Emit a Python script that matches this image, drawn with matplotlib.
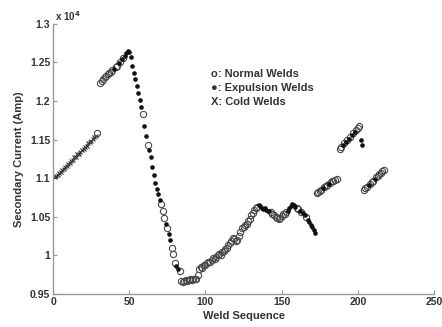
import numpy as np
import matplotlib
matplotlib.use("Agg")
import matplotlib.pyplot as plt
from matplotlib.ticker import FuncFormatter

plt.rcParams['font.family'] = ['Liberation Sans', 'DejaVu Sans']
plt.rcParams['font.weight'] = 'bold'

# valeurs (courant en unites de 10^4 A)
cold_x = list(range(1, 29))
cold_y = [1.101, 1.103, 1.104, 1.107, 1.108, 1.111, 1.112, 1.114, 1.116, 1.119,
          1.120, 1.122, 1.124, 1.127, 1.128, 1.131, 1.132, 1.134, 1.137, 1.138,
          1.141, 1.142, 1.145, 1.147, 1.148, 1.151, 1.153, 1.155]

normal_x = [29,
            31, 32, 33, 34, 35, 36, 37, 38, 39, 41, 42, 44, 46,
            59, 62, 71, 72, 73, 75, 78, 79, 80, 83,
            84, 85, 86, 87, 88, 89, 90, 91, 92, 93, 94, 95,
            96, 97, 98, 99, 100, 101, 102, 103, 104, 105, 106, 107, 108, 109, 110,
            111, 112, 113, 114, 115, 116, 117, 118, 119, 120, 121, 122, 123, 124,
            125, 126, 127, 128, 129, 130, 131, 132, 133, 134,
            143, 144, 145, 146, 147, 148, 149, 150, 151, 152, 153, 160, 161, 163, 166,
            173, 174, 175, 176, 178, 179, 180, 182, 183, 184, 185, 186,
            188, 189, 191, 193, 195, 197, 199, 200, 201,
            204, 205, 206, 208, 209, 210, 212, 213, 214, 215, 216, 217]
normal_y = [1.158,
            1.224, 1.226, 1.228, 1.231, 1.232, 1.235, 1.236, 1.238, 1.240, 1.244, 1.246, 1.251, 1.256,
            1.183, 1.143, 1.066, 1.058, 1.049, 1.035, 1.010, 1.002, 0.990, 0.980,
            0.967, 0.966, 0.967, 0.968, 0.967, 0.968, 0.969, 0.968, 0.969, 0.970, 0.969, 0.975,
            0.982, 0.985, 0.984, 0.987, 0.988, 0.990, 0.992, 0.991, 0.994, 0.996, 0.995, 0.998, 1.000, 1.002, 1.001,
            1.004, 1.006, 1.008, 1.010, 1.013, 1.016, 1.019, 1.022, 1.021, 1.018, 1.020, 1.025, 1.030, 1.035,
            1.037, 1.040, 1.041, 1.044, 1.047, 1.052, 1.055, 1.059, 1.061, 1.063,
            1.056, 1.054, 1.052, 1.050, 1.048, 1.047, 1.049, 1.051, 1.053, 1.054, 1.056, 1.061, 1.060, 1.056, 1.050,
            1.081, 1.082, 1.084, 1.085, 1.088, 1.090, 1.091, 1.094, 1.096, 1.097, 1.098, 1.099,
            1.138, 1.140, 1.145, 1.149, 1.154, 1.158, 1.162, 1.165, 1.168,
            1.085, 1.087, 1.089, 1.093, 1.095, 1.097, 1.101, 1.103, 1.105, 1.107, 1.109, 1.111]

expulsion_x = [40, 43, 45, 47, 48, 49, 50, 51, 52, 53, 54, 55, 56, 57, 58,
               60, 61, 63, 64, 65, 66, 67, 68, 69, 70, 74, 76, 77, 81, 82,
               135, 136, 137, 138, 139, 140, 141, 142,
               154, 155, 156, 157, 158, 159, 162, 164, 165, 167, 168, 169, 170, 171, 172,
               177, 181, 190, 192, 194, 196, 198, 202, 203, 207, 211]
expulsion_y = [1.242, 1.249, 1.254, 1.259, 1.262, 1.265, 1.264, 1.257, 1.245, 1.236, 1.229, 1.220, 1.210, 1.201, 1.192,
               1.168, 1.155, 1.136, 1.128, 1.115, 1.104, 1.094, 1.086, 1.079, 1.072, 1.041, 1.028, 1.020, 0.986, 0.983,
               1.065, 1.064, 1.062, 1.060, 1.061, 1.059, 1.057, 1.058,
               1.058, 1.061, 1.064, 1.066, 1.065, 1.063, 1.058, 1.055, 1.052, 1.046, 1.043, 1.040, 1.037, 1.033, 1.029,
               1.087, 1.093, 1.143, 1.147, 1.151, 1.156, 1.160, 1.150, 1.143, 1.091, 1.099]

y_ticks = [0.95, 1.0, 1.05, 1.1, 1.15, 1.2, 1.25, 1.3]
x_ticks = [0, 50, 100, 150, 200, 250]

fig = plt.figure(figsize=(4.42, 3.27), dpi=100)
ax = fig.add_axes([0.12, 0.101, 0.862, 0.826])

ax.plot(cold_x, cold_y, 'x', ms=3.2, mew=0.8, color='#333333')
ax.plot(normal_x, normal_y, 'o', ms=4.5, mfc='none', mec='#4a4a4a', mew=0.8)
ax.plot(expulsion_x, expulsion_y, 'o', ms=2.3, color='#111111')

ax.set_xlim(0, 250)
ax.set_ylim(0.95, 1.3)
ax.set_xticks(x_ticks)
ax.set_yticks(y_ticks)
ax.yaxis.set_major_formatter(FuncFormatter(lambda v, p: '{:g}'.format(round(v, 3))))

for s in ['top', 'right']:
    ax.spines[s].set_visible(False)
for s in ['left', 'bottom']:
    ax.spines[s].set_color('#999999')
    ax.spines[s].set_linewidth(1.0)
ax.tick_params(direction='in', length=3, color='#999999', labelsize=7.5,
               labelcolor='#333333', pad=2)

ax.set_xlabel('Weld Sequence', fontsize=8, fontweight='bold', color='#333333', labelpad=3)
ax.set_ylabel('Secondary Current (Amp)', fontsize=8, fontweight='bold', color='#333333', labelpad=4)

ax.text(0.005, 1.005, 'x 10$^4$', transform=ax.transAxes, fontsize=7, color='#333333',
        va='bottom', ha='left')

ax.text(0.415, 0.805, 'o: Normal Welds', transform=ax.transAxes, fontsize=8, fontweight='bold', color='#333333')
ax.text(0.415, 0.752, '\u25cf: Expulsion Welds', transform=ax.transAxes, fontsize=8, fontweight='bold', color='#333333')
ax.text(0.415, 0.70, 'X: Cold Welds', transform=ax.transAxes, fontsize=8, fontweight='bold', color='#333333')

fig.savefig('out.png', dpi=100)
